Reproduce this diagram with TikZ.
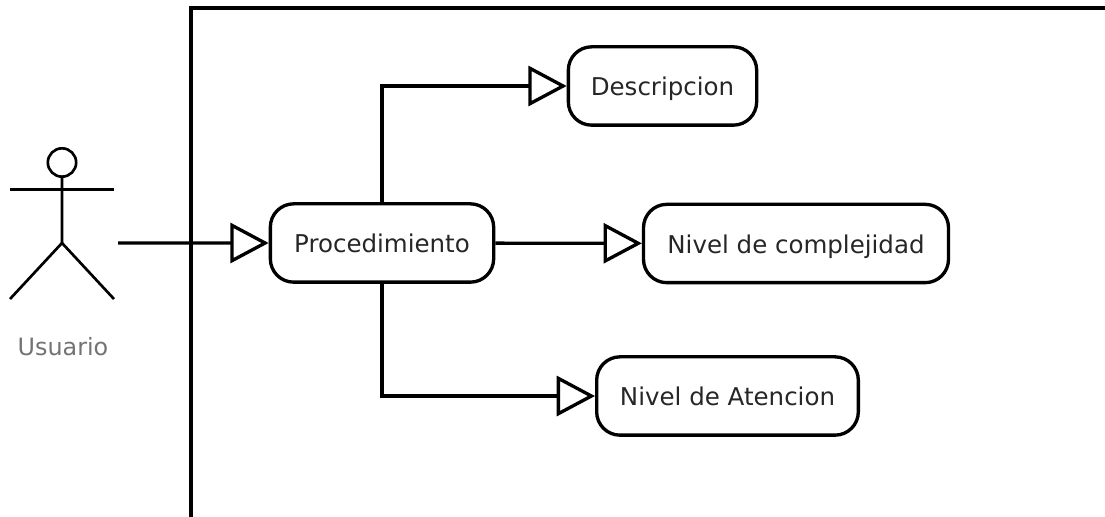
\documentclass[tikz,border=0pt]{standalone}
\usepackage{fontspec}
\setmainfont{DejaVu Sans}
\usetikzlibrary{arrows.meta}
\tikzset{
    box/.style={draw=black,line width=2pt,rounded corners=14pt,minimum height=47pt,font=\fontsize{14.7}{17}\selectfont,text=black!85,inner sep=0pt,text height=15pt,text depth=3pt},
    link/.style={draw=black,line width=2pt,-{Triangle[open,length=23pt,width=24pt,line width=2pt]}},
    actorline/.style={draw=black,line width=1.6pt}
}
\begin{document}
\begin{tikzpicture}[x=1pt,y=-1pt,scale=0.6]
    \useasboundingbox (0,0) rectangle (1105,517);
    \draw[line width=2pt] (191,517) -- (191,8) -- (1105,8);
    \node[box,minimum width=134pt] (proc) at (382,243) {Procedimiento};
    \node[box,minimum width=113pt] (desc) at (662.5,86) {Descripcion};
    \node[box,minimum width=183pt] (nivc) at (796,243.5) {Nivel de complejidad};
    \node[box,minimum width=157pt] (niva) at (727.5,396) {Nivel de Atencion};
    \coordinate (actorin) at (118,243);
    \draw[link] (actorin) -- (proc);
    \draw[link] (proc.north) |- (desc);
    \draw[link] (proc) -- (nivc);
    \draw[link] (proc.south) |- (niva);
    \node[draw=black,circle,line width=1.6pt,minimum size=17pt,inner sep=0pt] (head) at (62,162.5) {};
    \coordinate (hip) at (62,243);
    \coordinate (armL) at (10,189.4);
    \coordinate (armR) at (114,189.4);
    \coordinate (footL) at (10,299);
    \coordinate (footR) at (114,299);
    \draw[actorline] (head) -- (hip);
    \draw[actorline] (armL) -- (armR);
    \draw[actorline] (footL) -- (hip) -- (footR);
    \node[font=\fontsize{14.3}{17}\selectfont,text=black!55] (user) at (63,347) {Usuario};
\end{tikzpicture}
\end{document}
